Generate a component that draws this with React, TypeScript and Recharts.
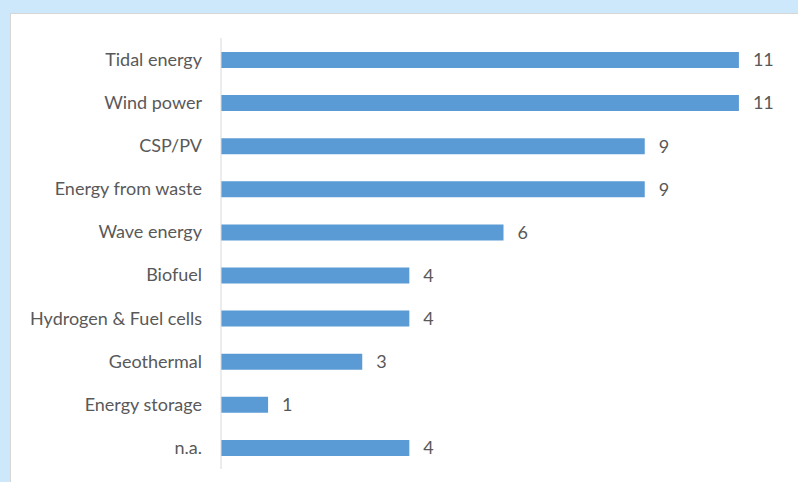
import { BarChart, Bar, XAxis, YAxis, LabelList } from "recharts";

const categories = [
  "Tidal energy",
  "Wind power",
  "CSP/PV",
  "Energy from waste",
  "Wave energy",
  "Biofuel",
  "Hydrogen & Fuel cells",
  "Geothermal",
  "Energy storage",
  "n.a.",
];
const counts = [11, 11, 9, 9, 6, 4, 4, 3, 1, 4];

const data = categories.map((name, i) => ({ name, value: counts[i] }));

const FONT = "Lato, 'Open Sans', sans-serif";
const TEXT = "#595959";

export default function App() {
  return (
    <div
      style={{
        position: "absolute",
        left: 0,
        top: 0,
        width: 798,
        height: 482,
        background: "#cde8fb",
        overflow: "hidden",
        fontFamily: FONT,
      }}
    >
      {/* white chart panel */}
      <div
        style={{
          position: "absolute",
          left: 10,
          top: 13,
          width: 800,
          height: 480,
          background: "#ffffff",
          border: "1px solid #d6d6d6",
        }}
      />
      <div style={{ position: "absolute", left: 0, top: 0 }}>
        <BarChart
          width={798}
          height={482}
          layout="vertical"
          data={data}
          margin={{ top: 38, right: 12, bottom: 13, left: 0 }}
          barSize={16}
        >
          <XAxis type="number" domain={[0, 12]} hide />
          <YAxis
            type="category"
            dataKey="name"
            width={221}
            axisLine={{ stroke: "#d9d9d9" }}
            tickLine={false}
            tickMargin={13}
            tick={{ fill: TEXT, fontSize: 18, fontFamily: FONT }}
            interval={0}
          />
          <Bar dataKey="value" fill="#5b9bd5" isAnimationActive={false}>
            <LabelList
              dataKey="value"
              position="right"
              offset={14}
              fill={TEXT}
              fontSize={18}
              fontFamily={FONT}
            />
          </Bar>
        </BarChart>
      </div>
    </div>
  );
}
